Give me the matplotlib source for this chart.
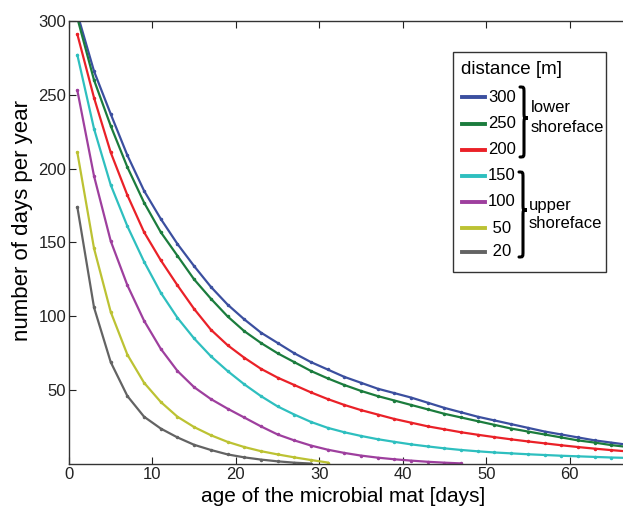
import matplotlib
matplotlib.use("Agg")
import matplotlib.pyplot as plt
from matplotlib.path import Path
from matplotlib.patches import PathPatch, Rectangle
from matplotlib.lines import Line2D

plt.rcParams['font.family'] = ['Liberation Sans', 'DejaVu Sans']

W, H = 623, 507

# age of the mat, every second day
days = list(range(1, 70, 2))

# number of days per year, one series per distance
d300 = [305, 266, 237, 209, 185, 166, 149, 134, 120, 108,
        98, 89, 82, 75, 69, 64, 59, 55, 51, 48,
        45, 41.5, 38, 35, 32, 29.5, 27, 24.5, 22, 20,
        18, 16, 14.5, 13, 11.5]
d250 = [302, 260, 229, 201, 177, 157, 141, 125, 112, 100,
        90, 82, 75, 69, 63, 58, 53.5, 49.5, 46, 43,
        40, 37, 34, 31.5, 29, 26.5, 24, 22, 20, 18,
        16, 14.5, 12.8, 11.5, 10.3]
d200 = [291, 248, 211, 182, 157, 138, 121, 105, 91, 80.5,
        72, 64.5, 58.5, 53.5, 48.5, 44, 40, 36.5, 33.5, 30.5,
        28, 25.5, 23.5, 21.5, 19.8, 18.2, 16.7, 15.3, 14, 12.7,
        11.5, 10.4, 9.4, 8.5, 7.6]
d150 = [277, 227, 189, 161, 137, 116, 99, 85, 73, 63,
        54, 46, 39, 33.5, 28.5, 24.5, 21.5, 19, 16.8, 15,
        13.3, 11.9, 10.6, 9.5, 8.6, 7.8, 7.2, 6.6, 6.1, 5.6,
        5.2, 4.8, 4.4, 4.1, 3.8]
d100 = [253, 195, 151, 121, 97, 78, 63, 52, 44, 37.5,
        31.5, 25.5, 20, 16, 12.5, 9.7, 7.5, 5.7, 4.3, 3.2,
        2.3, 1.5, 0.9, 0.4]
d50 = [211, 146, 103, 74, 55, 42, 32, 25, 19.5, 15,
       11.5, 8.7, 6.5, 4.5, 2.7, 1.0]
d20 = [174, 106, 69, 46, 32, 24, 18, 13, 9.5, 6.5,
       4.5, 3, 1.8, 0.9, 0.3]

labels = ['300', '250', '200', '150', '100', ' 50', ' 20']
series = [d300, d250, d200, d150, d100, d50, d20]
colors = ['#3b4f9f', '#1b7c3d', '#ea2128', '#2ebfbf', '#9e3f9e', '#bcc233', '#636363']


def fx(x):
    return x / W


def fy(y):
    return 1 - y / H


def brace(fig, x0, top, bottom, tip, w):
    xm = x0 + w / 2
    r = 6
    pts = [(x0, top), (xm, top), (xm, top), (xm, top + r),
           (xm, tip - r),
           (xm, tip), (xm, tip), (x0 + w, tip),
           (xm, tip), (xm, tip), (xm, tip + r),
           (xm, bottom - r),
           (xm, bottom), (xm, bottom), (x0, bottom)]
    codes = [Path.MOVETO, Path.CURVE4, Path.CURVE4, Path.CURVE4,
             Path.LINETO,
             Path.CURVE4, Path.CURVE4, Path.CURVE4,
             Path.CURVE4, Path.CURVE4, Path.CURVE4,
             Path.LINETO,
             Path.CURVE4, Path.CURVE4, Path.CURVE4]
    verts = [(fx(a), fy(b)) for a, b in pts]
    fig.add_artist(PathPatch(Path(verts, codes), fill=False, lw=2.2, ec='black',
                             transform=fig.transFigure, capstyle='round'))


fig = plt.figure(figsize=(W / 100, H / 100), dpi=100)
# axes run past the right edge, as in the cropped original
ax = fig.add_axes([fx(69), fy(464), 584 / W, 443 / H])

for vals, c in zip(series, colors):
    ax.plot(days[:len(vals)], vals, color=c, lw=1.6, marker='.', ms=3)

ax.set_xlim(0, 70)
ax.set_ylim(0, 300)
ax.set_xticks([0, 10, 20, 30, 40, 50, 60])
ax.set_yticks([50, 100, 150, 200, 250, 300])
ax.tick_params(direction='in', top=True, right=False, length=5, labelsize=12,
               colors='#222222', pad=2)
for s in ax.spines.values():
    s.set_color('#333333')
    s.set_linewidth(1)
ax.set_xlabel('age of the microbial mat [days]', fontsize=15)
ax.set_ylabel('number of days per year', fontsize=16)
ax.xaxis.set_label_coords(0.469, -0.052)
ax.yaxis.set_label_coords(-0.062, 0.549)

# hand made legend with braces
fig.add_artist(Rectangle((fx(453), fy(272)), (606 - 453) / W, (272 - 52) / H,
                         transform=fig.transFigure, fill=False, ec='#333333', lw=1))
fig.text(fx(461), fy(70), 'distance [m]', fontsize=13.5, va='center', ha='left')
rows = [97, 124, 150, 176, 202, 228, 252]
for lab, c, y in zip(labels, colors, rows):
    fig.add_artist(Line2D([fx(462), fx(485)], [fy(y), fy(y)], color=c, lw=2.8,
                          transform=fig.transFigure))
    fig.text(fx(488), fy(y), lab, fontsize=12, va='center', ha='left')

brace(fig, 520, 87, 157, 118, 8)
brace(fig, 519, 172, 257, 210, 8)
fig.text(fx(531), fy(108), 'lower', fontsize=12, va='center', ha='left')
fig.text(fx(531), fy(128), 'shoreface', fontsize=12, va='center', ha='left')
fig.text(fx(529), fy(205), 'upper', fontsize=12, va='center', ha='left')
fig.text(fx(529), fy(224), 'shoreface', fontsize=12, va='center', ha='left')

fig.savefig('out.png', dpi=100)
